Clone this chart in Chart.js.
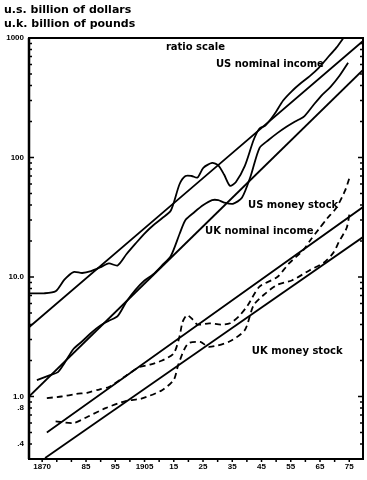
<!DOCTYPE html>
<html>
<head>
<meta charset="utf-8">
<script src="https://cdn.jsdelivr.net/npm/chart.js@4.4.1/dist/chart.umd.min.js"></script>
<style>
  html, body { margin: 0; padding: 0; background: #fff; }
  #wrap { width: 367px; height: 480px; }
</style>
</head>
<body>
<div id="wrap"><canvas id="chart" width="367" height="480"></canvas></div>
<script>
// ratio scale chart, US and UK money stock and nominal income, 1867-1975

// axis ticks
const yearTicks = [1870, 1885, 1895, 1905, 1915, 1925, 1935, 1945, 1955, 1965, 1975];
const yearLabels = ['1870', '85', '95', '1905', '15', '25', '35', '45', '55', '65', '75'];
const valueTicks = [0.4, 0.8, 1, 10, 100, 1000];
const valueLabels = ['.4', '.8', '1.0', '10.0', '100', '1000'];

// US nominal income (billion $)
const usIncomeYears = [1865.5, 1870.6, 1874.6, 1877.6, 1880.7, 1883.7, 1886.7, 1889.7, 1892.8, 1895.8, 1898.8, 1901.9, 1904.9, 1907.9, 1911.0, 1914.0, 1917.0, 1919.0, 1921.1, 1923.1, 1925.1, 1928.1, 1930.2, 1932.2, 1934.2, 1936.2, 1939.3, 1942.3, 1944.3, 1946.3, 1949.4, 1952.4, 1955.4, 1958.5, 1961.5, 1964.5, 1967.5, 1970.6, 1973.6];
const usIncome = [7.3, 7.3, 7.6, 9.5, 11.0, 10.8, 11.2, 12.0, 13.0, 12.5, 15.5, 19, 23, 27, 31, 36, 60, 70, 70, 68, 82, 90, 86, 72, 58, 62, 85, 140, 175, 185, 230, 300, 360, 420, 480, 560, 680, 830, 1050];

// US money stock (billion $)
const usMoneyYears = [1868.2, 1872.7, 1875.4, 1877.6, 1880.7, 1883.7, 1886.7, 1889.7, 1892.8, 1895.8, 1898.8, 1901.9, 1904.9, 1907.9, 1911.0, 1914.0, 1917.0, 1919.0, 1922.1, 1925.1, 1928.1, 1930.2, 1932.2, 1935.2, 1938.3, 1941.3, 1944.3, 1947.4, 1950.4, 1953.4, 1956.5, 1959.5, 1962.5, 1965.5, 1968.6, 1971.6, 1974.6];
const usMoney = [1.37, 1.51, 1.6, 1.9, 2.5, 2.9, 3.4, 3.9, 4.3, 4.7, 6.2, 7.8, 9.3, 10.5, 12.5, 15, 23, 30, 35, 40, 44, 44, 42, 41, 46, 70, 120, 140, 160, 180, 200, 220, 270, 330, 390, 480, 620];

// UK nominal income (billion £)
const ukIncomeYears = [1871.6, 1876.6, 1881.7, 1885.7, 1889.7, 1892.8, 1898.8, 1902.9, 1906.9, 1911.0, 1915.0, 1917.0, 1918.0, 1919.5, 1921.1, 1923.1, 1927.1, 1931.2, 1934.2, 1937.3, 1940.3, 1944.3, 1950.4, 1954.4, 1959.5, 1961.5, 1964.5, 1967.5, 1970.6, 1973.6, 1975.1];
const ukIncome = [0.97, 1.0, 1.05, 1.08, 1.15, 1.2, 1.5, 1.75, 1.85, 2.0, 2.3, 3.2, 4.2, 4.8, 4.5, 4.0, 4.1, 4.0, 4.1, 4.7, 5.8, 8.3, 10, 13, 17, 20, 25, 31, 38, 53, 68];

// UK money stock (billion £)
const ukMoneyYears = [1874.6, 1880.7, 1885.7, 1891.7, 1898.8, 1903.9, 1911.0, 1915.0, 1916.5, 1918.5, 1920.1, 1924.1, 1927.1, 1934.2, 1939.3, 1942.3, 1946.4, 1950.4, 1955.5, 1961.5, 1966.5, 1969.6, 1971.6, 1974.1, 1975.1];
const ukMoney = [0.62, 0.60, 0.68, 0.80, 0.92, 0.96, 1.13, 1.38, 1.83, 2.45, 2.8, 2.86, 2.6, 2.9, 3.6, 5.8, 7.3, 8.6, 9.4, 11.4, 13.3, 16, 20, 25.7, 34];

// fitted trend lines: start and end
const usIncomeTrendYears = [1865.5, 1979.7];
const usIncomeTrend = [3.8, 944];
const usMoneyTrendYears = [1865.5, 1979.7];
const usMoneyTrend = [1.0, 540];
const ukIncomeTrendYears = [1871.6, 1979.7];
const ukIncomeTrend = [0.5, 38.5];
const ukMoneyTrendYears = [1871.0, 1979.7];
const ukMoneyTrend = [0.306, 21.6];

// text labels on the plot
const notes = [
    { text: 'ratio scale', year: 1912.3, value: 841 },
    { text: 'US nominal income', year: 1929.4, value: 606 },
    { text: 'US money stock', year: 1940.4, value: 40 },
    { text: 'UK nominal income', year: 1925.7, value: 24.3 },
    { text: 'UK money stock', year: 1941.7, value: 2.4 }
];

const INK = '#000';
const FONT = '"Liberation Sans", "DejaVu Sans", sans-serif';
const NOTE_FONT = '"DejaVu Sans", sans-serif';

function toPoints(xs, ys) {
    return xs.map((x, i) => ({ x: x, y: ys[i] }));
}

function series(xs, ys, dashed) {
    return {
        data: toPoints(xs, ys),
        borderColor: INK,
        borderWidth: 1.8,
        borderDash: dashed ? [6, 4] : [],
        pointRadius: 0,
        tension: 0.25,
        fill: false
    };
}

// frame, inward tick marks and annotation text
const decorPlugin = {
    id: 'decor',
    afterDatasetsDraw(chart) {
        const ctx = chart.ctx;
        const area = chart.chartArea;
        const xs = chart.scales.x;
        const ys = chart.scales.y;
        ctx.save();
        ctx.strokeStyle = INK;
        ctx.lineWidth = 2;
        ctx.strokeRect(area.left, area.top, area.right - area.left, area.bottom - area.top);
        ctx.lineWidth = 2.5;
        ctx.beginPath();
        ctx.moveTo(area.left, area.top);
        ctx.lineTo(area.left, area.bottom);
        ctx.stroke();

        // minor log ticks on both vertical axes
        ctx.lineWidth = 1.5;
        for (let d = -1; d <= 2; d++) {
            for (let m = 1; m <= 9; m++) {
                const v = m * Math.pow(10, d);
                if (v < ys.min || v > ys.max) continue;
                const py = ys.getPixelForValue(v);
                const len = m === 1 ? 5 : 3;
                ctx.beginPath();
                ctx.moveTo(area.left, py);
                ctx.lineTo(area.left + len, py);
                ctx.moveTo(area.right, py);
                ctx.lineTo(area.right - len, py);
                ctx.stroke();
            }
        }

        // five-year ticks on the time axis
        for (let yr = 1870; yr <= 1975; yr += 5) {
            const px = xs.getPixelForValue(yr);
            ctx.beginPath();
            ctx.moveTo(px, area.bottom);
            ctx.lineTo(px, area.bottom + 3);
            ctx.stroke();
        }

        ctx.fillStyle = INK;
        ctx.textBaseline = 'middle';
        ctx.textAlign = 'left';
        ctx.font = 'bold 10px ' + NOTE_FONT;
        notes.forEach(n => {
            ctx.fillText(n.text, xs.getPixelForValue(n.year), ys.getPixelForValue(n.value));
        });

        ctx.font = 'bold 11px ' + NOTE_FONT;
        ctx.fillText('u.s. billion of dollars', 4, 10);
        ctx.fillText('u.k. billion of pounds', 4, 24);
        ctx.restore();
    }
};

const chart = new Chart(document.getElementById('chart'), {
    type: 'line',
    data: {
        datasets: [
            series(usIncomeYears, usIncome, false),
            series(usMoneyYears, usMoney, false),
            series(ukIncomeYears, ukIncome, true),
            series(ukMoneyYears, ukMoney, true),
            series(usIncomeTrendYears, usIncomeTrend, false),
            series(usMoneyTrendYears, usMoneyTrend, false),
            series(ukIncomeTrendYears, ukIncomeTrend, false),
            series(ukMoneyTrendYears, ukMoneyTrend, false)
        ]
    },
    options: {
        responsive: false,
        animation: false,
        layout: { padding: { top: 38, right: 4, left: 0, bottom: 0 } },
        plugins: {
            legend: { display: false },
            tooltip: { enabled: false }
        },
        scales: {
            x: {
                type: 'linear',
                min: 1865.5,
                max: 1979.7,
                grid: { display: false, drawTicks: false },
                border: { display: false },
                afterBuildTicks(scale) {
                    scale.ticks = yearTicks.map(v => ({ value: v }));
                },
                afterFit(scale) {
                    scale.height = 21;
                },
                ticks: {
                    autoSkip: false,
                    maxRotation: 0,
                    padding: 3,
                    color: INK,
                    font: { family: FONT, size: 8, weight: 'bold' },
                    callback: (v) => yearLabels[yearTicks.indexOf(v)]
                }
            },
            y: {
                type: 'logarithmic',
                min: 0.3,
                max: 1000,
                grid: { display: false, drawTicks: false },
                border: { display: false },
                afterBuildTicks(scale) {
                    scale.ticks = valueTicks.map(v => ({ value: v }));
                },
                afterFit(scale) {
                    scale.width = 29;
                },
                ticks: {
                    autoSkip: false,
                    padding: 5,
                    color: INK,
                    font: { family: FONT, size: 8, weight: 'bold' },
                    callback: (v) => valueLabels[valueTicks.indexOf(v)]
                }
            }
        }
    },
    plugins: [decorPlugin]
});
</script>
</body>
</html>
